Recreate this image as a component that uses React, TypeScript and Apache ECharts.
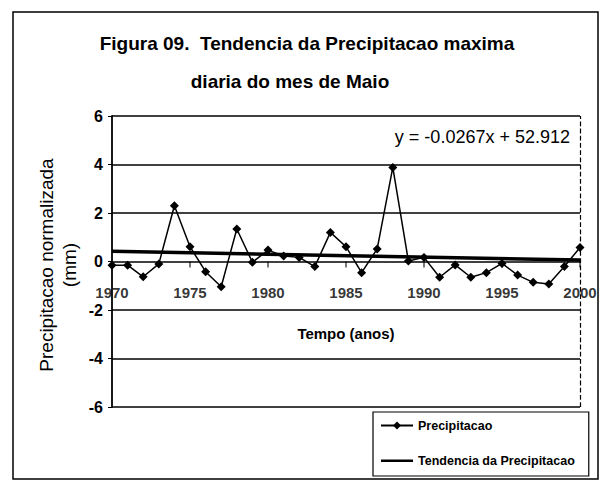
import React, { useEffect, useRef } from "react";
import * as echarts from "echarts";

const years: number[] = [
  1970, 1971, 1972, 1973, 1974, 1975, 1976, 1977, 1978, 1979, 1980, 1981, 1982, 1983, 1984, 1985,
  1986, 1987, 1988, 1989, 1990, 1991, 1992, 1993, 1994, 1995, 1996, 1997, 1998, 1999, 2000,
];
const precipitacao: number[] = [
  -0.15, -0.15, -0.63, -0.1, 2.3, 0.61, -0.42, -1.04, 1.34, -0.03, 0.47, 0.23, 0.17, -0.21, 1.2, 0.61,
  -0.46, 0.52, 3.88, 0.02, 0.17, -0.65, -0.14, -0.65, -0.46, -0.08, -0.56, -0.86, -0.93, -0.21, 0.58,
];
const trendYears: number[] = [1970, 2000];
const trendValues: number[] = [0.42, 0.06];
const xTickYears: number[] = [1970, 1975, 1980, 1985, 1990, 1995, 2000];
const yTicks = { min: -6, max: 6, interval: 2 };
const xRange = { min: 1970, max: 2000 };
const titleLine1 = "Figura 09.  Tendencia da Precipitacao maxima";
const titleLine2 = "diaria do mes de Maio";
const equation = "y = -0.0267x + 52.912";
const xTitle = "Tempo (anos)";
const yTitle = "Precipitacao normalizada\n(mm)";

const BOLD = "'Liberation Sans', Arial, sans-serif";
const SANS = "'Liberation Sans', Arial, sans-serif";
const TREND_ICON = "path://M0,0L0,0M0,4L32,4L32,6.5L0,6.5ZM32,10L32,10";

export default function App() {
  const ref = useRef<HTMLDivElement>(null);
  useEffect(() => {
    if (!ref.current) return;
    const chart = echarts.init(ref.current, null, { renderer: "svg" });
    chart.setOption({
      animation: false,
      backgroundColor: "#fff",
      title: [
        {
          text: titleLine1,
          left: 302,
          top: 29,
          textAlign: "center",
          textStyle: { fontFamily: BOLD, fontSize: 19, fontWeight: "bold", color: "#000" },
        },
        {
          text: titleLine2,
          left: 285,
          top: 67,
          textAlign: "center",
          textStyle: { fontFamily: BOLD, fontSize: 19, fontWeight: "bold", color: "#000" },
        },
      ],
      grid: { left: 112, right: 25, top: 116, bottom: 76, containLabel: false },
      legend: {
        orient: "vertical",
        left: 373,
        top: 412,
        padding: [7, 14, 9, 7],
        itemGap: 22,
        itemWidth: 32,
        itemHeight: 10,
        borderColor: "#000",
        borderWidth: 1.2,
        backgroundColor: "#fff",
        textStyle: { fontFamily: BOLD, fontSize: 12.5, fontWeight: "bold", color: "#000" },
        data: [
          { name: "Precipitacao" },
          { name: "Tendencia da Precipitacao", icon: TREND_ICON, itemStyle: { color: "#000" } },
        ],
      },
      xAxis: {
        type: "value",
        min: xRange.min,
        max: xRange.max,
        axisLine: { show: false },
        axisTick: { show: false },
        axisLabel: { show: false },
        splitLine: { show: false },
      },
      yAxis: {
        type: "value",
        min: yTicks.min,
        max: yTicks.max,
        interval: yTicks.interval,
        axisLine: { show: true, onZero: false, lineStyle: { color: "#000", width: 1.8 } },
        axisTick: { show: true, length: 4, lineStyle: { color: "#000" } },
        axisLabel: { margin: 9, fontFamily: BOLD, fontSize: 16, fontWeight: "bold", color: "#000" },
        splitLine: { show: true, lineStyle: { color: "#000", width: 1.5 } },
      },
      series: [
        {
          name: "xTicks",
          type: "scatter",
          silent: true,
          data: xTickYears.map((y) => [y, 0]),
          symbol: "rect",
          symbolSize: [1.3, 6],
          symbolOffset: [0, 3],
          itemStyle: { color: "#000" },
          label: {
            show: true,
            position: "bottom",
            distance: 17,
            fontFamily: BOLD,
            fontSize: 15,
            fontWeight: "bold",
            color: "#000",
            formatter: (p: any) => String(p.value[0]),
          },
          z: 1,
        },
        {
          name: "Tendencia da Precipitacao",
          type: "line",
          data: trendYears.map((y, i) => [y, trendValues[i]]),
          symbol: "none",
          lineStyle: { color: "#000", width: 3.5 },
          itemStyle: { color: "#000" },
          z: 2,
          markLine: {
            silent: true,
            symbol: "none",
            label: { show: false },
            lineStyle: { color: "#000", type: "dashed", width: 1.2 },
            data: [{ xAxis: xRange.max }],
          },
        },
        {
          name: "Precipitacao",
          type: "line",
          data: years.map((y, i) => [y, precipitacao[i]]),
          symbol: "diamond",
          symbolSize: 9,
          lineStyle: { color: "#000", width: 1.5 },
          itemStyle: { color: "#000" },
          z: 3,
        },
      ],
      graphic: [
        {
          type: "rect",
          shape: { x: 13, y: 12, width: 585, height: 467 },
          style: { fill: "none", stroke: "#000", lineWidth: 1.5 },
          z: -1,
          silent: true,
        },
        {
          type: "text",
          x: 570,
          y: 137,
          style: {
            text: equation,
            fontFamily: SANS,
            fontSize: 18,
            fill: "#000",
            textAlign: "right",
            textVerticalAlign: "middle",
          },
        },
        {
          type: "text",
          x: 346,
          y: 333,
          style: {
            text: xTitle,
            fontFamily: BOLD,
            fontSize: 15,
            fontWeight: "bold",
            fill: "#000",
            textAlign: "center",
            textVerticalAlign: "middle",
          },
        },
        {
          type: "text",
          x: 58,
          y: 265,
          rotation: Math.PI / 2,
          style: {
            text: yTitle,
            fontFamily: SANS,
            fontSize: 19,
            lineHeight: 23,
            fill: "#000",
            textAlign: "center",
            textVerticalAlign: "middle",
          },
        },
      ],
    });
    return () => chart.dispose();
  }, []);
  return (
    <div
      ref={ref}
      style={{ position: "fixed", left: 0, top: 0, width: 605, height: 483 }}
    />
  );
}
